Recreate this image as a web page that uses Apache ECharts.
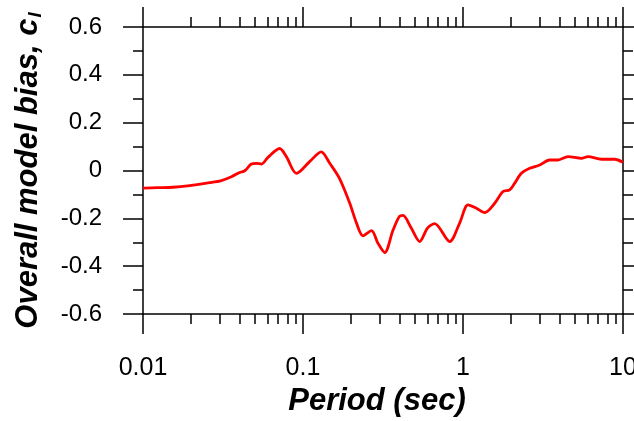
<!DOCTYPE html>
<html>
<head>
<meta charset="utf-8">
<script src="https://cdn.jsdelivr.net/npm/echarts@6/dist/echarts.min.js"></script>
<style>
html,body{margin:0;padding:0;background:#fff;}
#c{width:634px;height:421px;}
</style>
</head>
<body>
<div id="c"></div>
<script>
const periods = [0.01, 0.01236, 0.0154, 0.0196, 0.0261, 0.0309, 0.0357, 0.0402, 0.0432, 0.0476, 0.0511, 0.055, 0.0604, 0.0715, 0.0787, 0.091, 0.110, 0.130, 0.147, 0.169, 0.196, 0.216, 0.237, 0.268, 0.294, 0.324, 0.365, 0.400, 0.422, 0.471, 0.536, 0.600, 0.665, 0.826, 0.953, 1.075, 1.213, 1.367, 1.578, 1.778, 1.958, 2.104, 2.317, 2.611, 3.015, 3.48, 3.926, 4.53, 5.49, 6.04, 7.33, 8.87, 10];
const bias = [-0.074, -0.072, -0.070, -0.063, -0.051, -0.042, -0.026, -0.008, -0.001, 0.027, 0.030, 0.027, 0.055, 0.092, 0.058, -0.012, 0.037, 0.078, 0.030, -0.033, -0.137, -0.220, -0.273, -0.251, -0.304, -0.343, -0.250, -0.192, -0.188, -0.236, -0.297, -0.241, -0.222, -0.297, -0.220, -0.144, -0.158, -0.176, -0.137, -0.088, -0.081, -0.053, -0.012, 0.009, 0.023, 0.044, 0.044, 0.058, 0.051, 0.058, 0.047, 0.047, 0.034];
const xMajorTicks = [0.01, 0.1, 1, 10];
const xMinorTicks = [0.02,0.03,0.04,0.05,0.06,0.07,0.08,0.09,0.2,0.3,0.4,0.5,0.6,0.7,0.8,0.9,2,3,4,5,6,7,8,9];
const xLabels = [0.01, 0.1, 1, 10];
const yMin = -0.6, yMax = 0.6, yStep = 0.2;

const FONT = '"Liberation Sans", Arial, sans-serif';
const lineStyle = {color:'#000', width:1.5};
const grid = {left:143, top:27, width:480, height:287, outerBoundsMode:'none', containLabel:false};

function xAx(pos, major, showLine, labels, name) {
  return {
    type:'log', logBase:10, min:0.01, max:10, position:pos, gridIndex:0,
    axisLine:{show:showLine, onZero:false, lineStyle:lineStyle},
    axisTick:{show:true, inside:false, length: major?20:10, customValues: major?xMajorTicks:xMinorTicks, lineStyle:lineStyle},
    axisLabel: labels ? {show:true, customValues:xLabels, color:'#000', fontFamily:FONT, fontSize:25, margin:42,
      hideOverlap:false,
      formatter:function(v){return String(v);}} : {show:false},
    splitLine:{show:false}, minorTick:{show:false},
    name: name || '', nameLocation:'middle', nameGap:70,
    nameTextStyle:{color:'#000', fontFamily:FONT, fontSize:31, fontWeight:'bold', fontStyle:'italic', padding:[0,12,0,0]}
  };
}
function yAx(pos, labels) {
  return {
    type:'value', min:yMin, max:yMax, interval:yStep, position:pos,
    axisLine:{show:true, onZero:false, lineStyle:lineStyle},
    axisTick:{show:true, inside:false, length:20, lineStyle:lineStyle},
    minorTick:{show:true, splitNumber:2, length:10, lineStyle:lineStyle},
    axisLabel: labels ? {show:true, color:'#000', fontFamily:FONT, fontSize:24, margin:41,
      formatter:function(v){return String(Math.round(v*10)/10);}} : {show:false},
    splitLine:{show:false}, minorSplitLine:{show:false},
    name: labels ? '{a|Overall model bias, c}{b|l}' : '',
    nameLocation:'middle', nameGap:98,
    nameTextStyle:{color:'#000', fontFamily:FONT, fontSize:31, fontWeight:'bold', fontStyle:'italic',
      rich:{
        a:{color:'#000', fontFamily:FONT, fontSize:31, fontWeight:'bold', fontStyle:'italic'},
        b:{color:'#000', fontFamily:FONT, fontSize:19, fontWeight:'bold', fontStyle:'italic', padding:[14,0,0,1]}
      }}
  };
}

const chart = echarts.init(document.getElementById('c'), null, {renderer:'canvas'});
chart.setOption({
  animation:false,
  backgroundColor:'#fff',
  grid:[grid],
  xAxis:[
    xAx('bottom', true, true, true, 'Period (sec)'),
    xAx('bottom', false, false, false),
    xAx('top', true, true, false),
    xAx('top', false, false, false)
  ],
  yAxis:[ yAx('left', true), yAx('right', false) ],
  series:[{
    type:'line', xAxisIndex:0, yAxisIndex:0,
    data: periods.map((p,i)=>[p, bias[i]]),
    showSymbol:false, smooth:0.3,
    lineStyle:{color:'#ff0000', width:2.8},
    clip:false
  }]
});
</script>
</body>
</html>
